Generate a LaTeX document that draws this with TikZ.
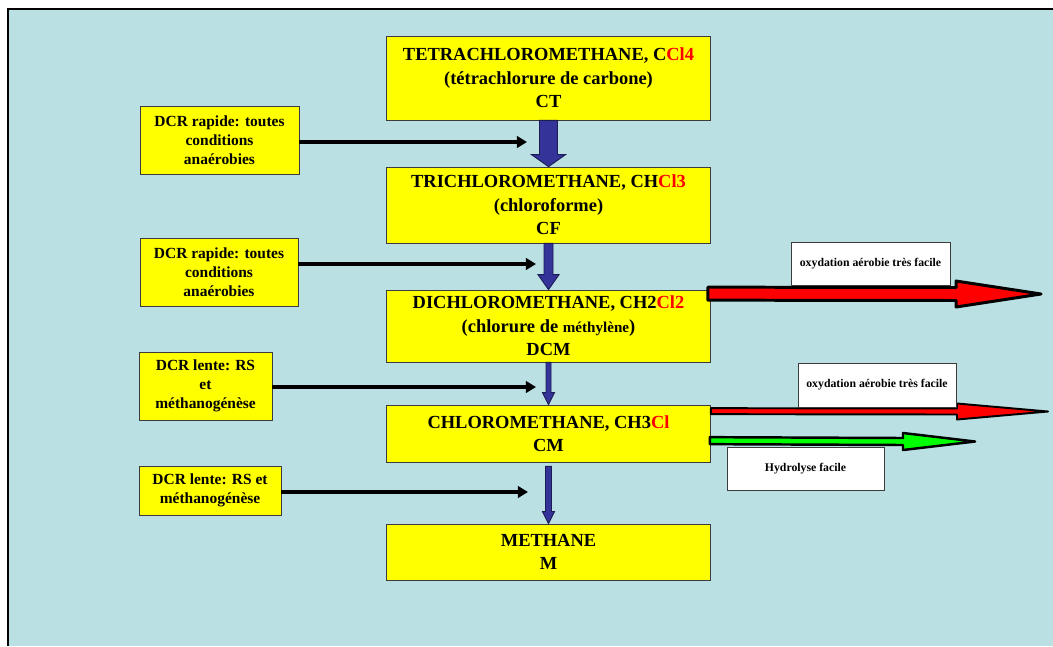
\documentclass[tikz,border=0pt]{standalone}
\usepackage{fontspec}
\setmainfont{Liberation Serif}
\usetikzlibrary{arrows.meta,calc}
\definecolor{bgblue}{RGB}{186,224,227}
\definecolor{boxyellow}{RGB}{255,255,0}
\definecolor{arrowblue}{RGB}{51,51,153}
\definecolor{edgegray}{RGB}{60,60,60}
\tikzset{
  stage/.style ={draw=edgegray, fill=boxyellow, align=center, font=\fontsize{10.5}{13.4}\selectfont\bfseries, minimum width=6.48cm, inner sep=0pt},
  cond/.style  ={draw=edgegray, fill=boxyellow, align=center, font=\fontsize{8.8}{10.8}\selectfont\bfseries, inner sep=0pt},
  note/.style  ={draw=edgegray, fill=white, align=center, font=\fontsize{6.7}{8}\selectfont\bfseries, inner sep=0pt},
  feed/.style  ={-{Triangle[length=5.7pt,width=6.5pt]}, line width=2.3pt},
  down/.style  ={fill=arrowblue, draw=arrowblue!55!black, line width=0.5pt},
  oxy/.style   ={fill=red, draw=black, line join=round},
  hyd/.style   ={fill=green, draw=black, line join=round},
}
% block arrows: #1 style, #2 start, #3 tip, #4 shaft half width, #5 head half width, #6 head length
\newcommand{\vblock}[6]{\filldraw[#1] ($(#2)+(-#4,0)$) -- ($(#3)+(-#4,-#6)$) -- ($(#3)+(-#5,-#6)$) -- (#3) -- ($(#3)+(#5,-#6)$) -- ($(#3)+(#4,-#6)$) -- ($(#2)+(#4,0)$) -- cycle;}
\newcommand{\hblock}[6]{\filldraw[#1] ($(#2)+(0,-#4)$) -- ($(#3)+(-#6,-#4)$) -- ($(#3)+(-#6,-#5)$) -- (#3) -- ($(#3)+(-#6,#5)$) -- ($(#3)+(-#6,#4)$) -- ($(#2)+(0,#4)$) -- cycle;}

\begin{document}
\begin{tikzpicture}[x=0.02cm, y=-0.02cm]
  \useasboundingbox (0,0) rectangle (1053,646);
  % background
  \fill[bgblue] (8,9) rectangle (1053,646);
  \draw[line width=1.2pt] (8,646) -- (8,9) -- (1053,9);

  % chain of compounds
  \node[stage, minimum height=1.68cm] (ct) at (548.5,78) {TETRACHLOROMETHANE, C\textcolor{red}{Cl4}\\(tétrachlorure de carbone)\\CT};
  \node[stage, minimum height=1.52cm] (cf) at (548.5,205) {TRICHLOROMETHANE, CH\textcolor{red}{Cl3}\\(chloroforme)\\CF};
  \node[stage, minimum height=1.44cm] (dcm) at (548.5,326) {DICHLOROMETHANE, CH2\textcolor{red}{Cl2}\\(chlorure de {\fontsize{8.6}{10}\selectfont méthylène})\\DCM};
  \node[stage, minimum height=1.14cm] (cm) at (548.5,433.5) {CHLOROMETHANE, CH3\textcolor{red}{Cl}\\CM};
  \node[stage, minimum height=1.12cm] (m) at (548.5,552) {METHANE\\M};

  % conditions
  \node[cond, minimum width=3.18cm, minimum height=1.36cm] (l1) at (219.5,140) {DCR rapide: toutes\\conditions\\anaérobies};
  \node[cond, minimum width=3.16cm, minimum height=1.36cm] (l2) at (219,272) {DCR rapide: toutes\\conditions\\anaérobies};
  \node[cond, minimum width=2.66cm, minimum height=1.36cm] (l3) at (205.5,386) {DCR lente: RS\\et\\méthanogénèse};
  \node[cond, minimum width=2.84cm, minimum height=0.98cm] (l4) at (210,490.5) {DCR lente: RS et\\méthanogénèse};

  \coordinate (f1) at (527,142);
  \coordinate (f2) at (536,264);
  \coordinate (f3) at (536,387);
  \coordinate (f4) at (528,492);
  \draw[feed] (l1.east |- f1) -- (f1);
  \draw[feed] (l2.east |- f2) -- (f2);
  \draw[feed] (l3.east |- f3) -- (f3);
  \draw[feed] (l4.east |- f4) -- (f4);

  % reduction steps
  \vblock{down}{ct.south}{cf.north}{9}{17}{12}
  \vblock{down}{cf.south}{dcm.north}{4.5}{10.5}{15}
  \vblock{down}{dcm.south}{cm.north}{2.5}{6}{12}
  \vblock{down}{$(cm.south)+(0,4)$}{m.north}{3}{6}{12}

  % other pathways
  \coordinate (o1) at (1041,294);
  \coordinate (o2) at (1048,411.5);
  \coordinate (h1) at (975,441.5);
  \hblock{oxy, line width=1.7pt}{$(dcm.north east)+(-3,4)$}{o1}{6.5}{13}{85}
  \hblock{oxy, line width=1.1pt}{$(cm.north east)+(0,6.5)$}{o2}{3}{8}{91}
  \hblock{hyd, line width=1.4pt}{$(cm.north east)+(-1,36)$}{h1}{3.5}{8.5}{72}

  \node[note, minimum width=3.18cm, minimum height=0.86cm] (n1) at (870.5,263.5) {oxydation aérobie très facile};
  \node[note, minimum width=3.16cm, minimum height=0.88cm] (n2) at (877,385) {oxydation aérobie très facile};
  \node[note, minimum width=3.14cm, minimum height=0.86cm] (n3) at (805.5,468.5) {Hydrolyse facile};
\end{tikzpicture}
\end{document}
